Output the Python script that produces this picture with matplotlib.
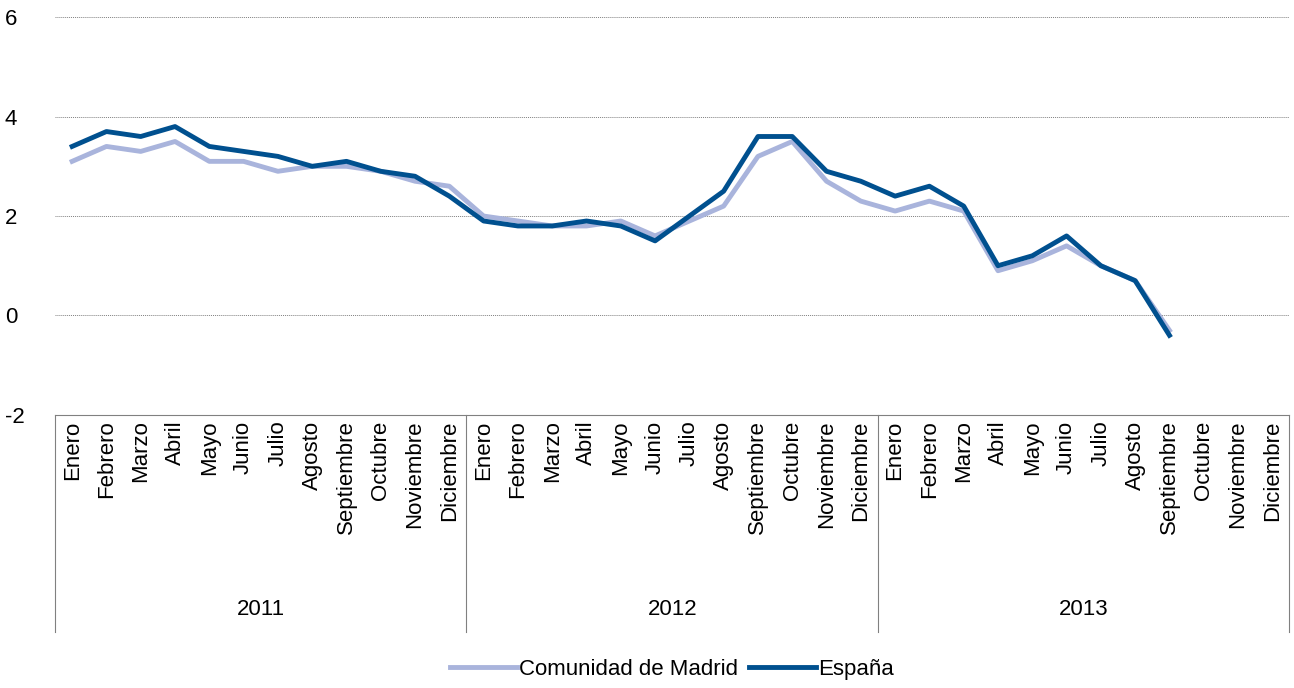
import matplotlib.pyplot as plt

meses = ['Enero', 'Febrero', 'Marzo', 'Abril', 'Mayo', 'Junio', 'Julio', 'Agosto',
         'Septiembre', 'Octubre', 'Noviembre', 'Diciembre']
anios = ['2011', '2012', '2013']

madrid = [3.1, 3.4, 3.3, 3.5, 3.1, 3.1, 2.9, 3.0, 3.0, 2.9, 2.7, 2.6,
          2.0, 1.9, 1.8, 1.8, 1.9, 1.6, 1.9, 2.2, 3.2, 3.5, 2.7, 2.3,
          2.1, 2.3, 2.1, 0.9, 1.1, 1.4, 1.0, 0.7, -0.3]
espana = [3.4, 3.7, 3.6, 3.8, 3.4, 3.3, 3.2, 3.0, 3.1, 2.9, 2.8, 2.4,
          1.9, 1.8, 1.8, 1.9, 1.8, 1.5, 2.0, 2.5, 3.6, 3.6, 2.9, 2.7,
          2.4, 2.6, 2.2, 1.0, 1.2, 1.6, 1.0, 0.7, -0.4]

plt.rcParams['font.family'] = ['Liberation Sans', 'DejaVu Sans']
plt.rcParams['axes.unicode_minus'] = False
fig = plt.figure(figsize=(12.94, 6.88), dpi=100)
ax = fig.add_axes([0.0425, 0.397, 0.954, 0.578])

ax.plot(range(len(madrid)), madrid, color='#a9b4dc', lw=3.5, label='Comunidad de Madrid')
ax.plot(range(len(espana)), espana, color='#00508f', lw=3.5, label='España')

ax.set_xlim(-0.5, 35.5)
ax.set_ylim(-2, 6)
ax.set_yticks([-2, 0, 2, 4, 6])
ax.tick_params(axis='y', length=0, labelsize=16, pad=36)
for lab in ax.get_yticklabels():
    lab.set_horizontalalignment('left')
ax.grid(axis='y', color='#808080', lw=0.7, ls=(0, (1, 1)))
for s in ['top', 'right', 'left']:
    ax.spines[s].set_visible(False)
ax.spines['bottom'].set_color('#808080')

ax.set_xticks(range(36))
ax.set_xticklabels(meses * 3, rotation=90, fontsize=16)
ax.tick_params(axis='x', length=0, pad=4)

tr = ax.get_xaxis_transform()
for xb in [-0.5, 11.5, 23.5, 35.5]:
    ax.plot([xb, xb], [0, -0.545], transform=tr, color='#808080', lw=0.8, clip_on=False)
for i, a in enumerate(anios):
    ax.text(i * 12 + 5.5, -0.49, a, transform=tr, ha='center', va='center', fontsize=16)

ax.legend(loc='center', bbox_to_anchor=(0.5, -0.64), ncol=2, frameon=False,
          fontsize=16, handlelength=3, columnspacing=0.5, handletextpad=0.1)

fig.savefig('out.png')
